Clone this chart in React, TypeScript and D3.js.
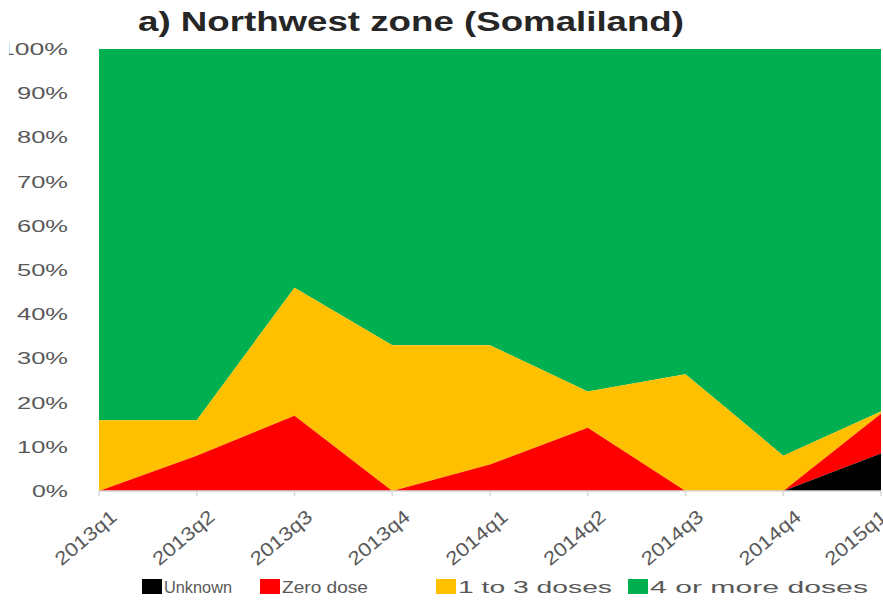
import { useRef, useEffect } from 'react'
import * as d3 from 'd3'

const categories = ['2013q1', '2013q2', '2013q3', '2013q4', '2014q1', '2014q2', '2014q3', '2014q4', '2015q1']
const unknown = [0, 0, 0, 0, 0, 0, 0, 0, 8.5]
const zeroDose = [0, 8, 17, 0, 6, 14.3, 0, 0, 9]
const oneToThree = [16, 8, 29, 33, 27, 8.2, 26.4, 8, 0.5]
const fourPlus = [84, 84, 54, 67, 67, 77.5, 73.6, 92, 82]
const yTicks = [0, 10, 20, 30, 40, 50, 60, 70, 80, 90, 100]

const seriesNames = ['Unknown', 'Zero dose', '1 to 3 doses', '4 or more doses']
const seriesColors = ['#000000', '#FF0000', '#FFC000', '#00B050']

export default function App() {
  const svgRef = useRef<SVGSVGElement>(null)
  const width = 883
  const height = 600

  useEffect(() => {
    if (!svgRef.current) return
    const svg = d3.select(svgRef.current)
    svg.selectAll('*').remove()

    const margin = { left: 99, right: 2, top: 49, bottom: 109 }
    const font = "'Liberation Sans', Arial, sans-serif"

    const rows = categories.map((c, i) => ({
      cat: c,
      'Unknown': unknown[i],
      'Zero dose': zeroDose[i],
      '1 to 3 doses': oneToThree[i],
      '4 or more doses': fourPlus[i],
    }))

    const x = d3.scalePoint<string>()
      .domain(categories)
      .range([margin.left, width - margin.right])
    const y = d3.scaleLinear()
      .domain([0, 100])
      .range([height - margin.bottom, margin.top])

    const stacked = d3.stack<any>().keys(seriesNames)(rows)

    const area = d3.area<any>()
      .x(d => x(d.data.cat) as number)
      .y0(d => y(d[0]))
      .y1(d => y(d[1]))

    // Areas, top series first so lower ones paint over seams
    svg.append('g')
      .selectAll('path')
      .data(stacked.slice().reverse())
      .enter()
      .append('path')
      .attr('d', d => area(d) as string)
      .attr('fill', d => seriesColors[seriesNames.indexOf(d.key)])

    // x axis line + ticks
    const axisG = svg.append('g')
    axisG.append('line')
      .attr('x1', margin.left).attr('x2', width - margin.right)
      .attr('y1', y(0)).attr('y2', y(0))
      .attr('stroke', '#D9D9D9').attr('stroke-width', 1.5)
    axisG.selectAll('.tick')
      .data(categories)
      .enter()
      .append('line')
      .attr('x1', d => x(d) as number).attr('x2', d => x(d) as number)
      .attr('y1', y(0)).attr('y2', y(0) + 5)
      .attr('stroke', '#D9D9D9').attr('stroke-width', 1.5)

    // x labels, rotated
    axisG.selectAll('.xlab')
      .data(categories)
      .enter()
      .append('text')
      .attr('transform', d => `translate(${Math.min((x(d) as number) + 10, width - 4)},${y(0) + 17}) rotate(-40)`)
      .attr('text-anchor', 'end')
      .attr('dy', '0.75em')
      .attr('textLength', 74)
      .attr('lengthAdjust', 'spacingAndGlyphs')
      .style('font-family', font)
      .style('font-size', '19px')
      .style('fill', '#595959')
      .text(d => d)

    // y labels
    svg.append('defs').append('clipPath').attr('id', 'ylab-clip')
      .append('rect').attr('x', 9).attr('y', 0).attr('width', 100).attr('height', height)
    svg.append('g')
      .attr('clip-path', 'url(#ylab-clip)')
      .selectAll('text')
      .data(yTicks)
      .enter()
      .append('text')
      .attr('x', 68)
      .attr('y', d => y(d))
      .attr('dy', '0.35em')
      .attr('text-anchor', 'end')
      .attr('textLength', d => (d === 0 ? 36 : d === 100 ? 68 : 51))
      .attr('lengthAdjust', 'spacingAndGlyphs')
      .style('font-family', font)
      .style('font-size', '17px')
      .style('fill', '#595959')
      .text(d => `${d}%`)

    // title
    svg.append('text')
      .attr('x', 138)
      .attr('y', 31)
      .attr('textLength', 546)
      .attr('lengthAdjust', 'spacingAndGlyphs')
      .style('font-family', font)
      .style('font-weight', 'bold')
      .style('font-size', '28px')
      .style('fill', '#262626')
      .text('a) Northwest zone (Somaliland)')

    // legend
    const legendX = [142, 260, 436, 628]
    const legendLen = [68, 86, 154, 218]
    const legend = svg.append('g')
    seriesNames.forEach((name, i) => {
      legend.append('rect')
        .attr('x', legendX[i]).attr('y', 579)
        .attr('width', 20).attr('height', 15)
        .attr('fill', seriesColors[i])
      legend.append('text')
        .attr('x', legendX[i] + 22)
        .attr('y', 593)
        .attr('textLength', legendLen[i])
        .attr('lengthAdjust', 'spacingAndGlyphs')
        .style('font-family', font)
        .style('font-size', '17px')
        .style('fill', '#595959')
        .text(name)
    })
  }, [])

  return (
    <svg
      ref={svgRef}
      width={width}
      height={height}
      style={{ position: 'absolute', left: 0, top: 0, background: '#fff' }}
    />
  )
}
